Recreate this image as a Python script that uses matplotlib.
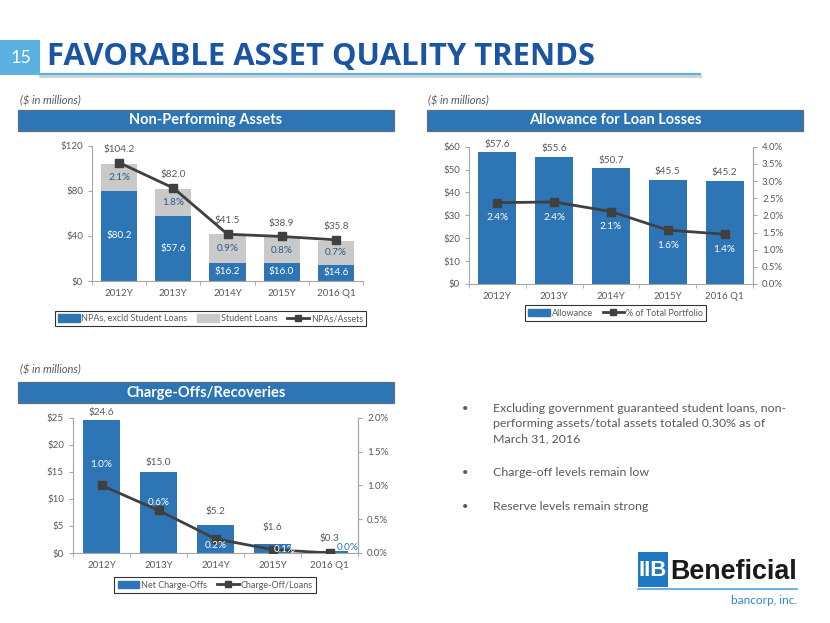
import matplotlib.pyplot as plt
import matplotlib.patches as patches
from matplotlib.lines import Line2D

plt.rcParams['font.family'] = ['Lato', 'DejaVu Sans']

W, H = 830, 623
BLUE = '#2E75B6'
GRAY_BAR = '#C9C9C9'
LINE = '#404040'
TXT = '#595959'
AX = '#A6A6A6'

periods = ['2012Y', '2013Y', '2014Y', '2015Y', '2016 Q1']

# Non-Performing Assets ($ millions)
npa_ex_student = [80.2, 57.6, 16.2, 16.0, 14.6]
npa_total = [104.2, 82.0, 41.5, 38.9, 35.8]
npa_ratio = [2.10, 1.65, 0.83, 0.79, 0.73]          # NPAs/Assets (%), as plotted
npa_ratio_labels = ['2.1%', '1.8%', '0.9%', '0.8%', '0.7%']

# Allowance for Loan Losses
allowance = [57.6, 55.6, 50.7, 45.5, 45.2]
allow_pct = [2.37, 2.39, 2.11, 1.57, 1.45]           # % of Total Portfolio
allow_pct_labels = ['2.4%', '2.4%', '2.1%', '1.6%', '1.4%']

# Charge-Offs/Recoveries
net_chargeoffs = [24.6, 15.0, 5.2, 1.6, 0.3]
co_ratio = [1.00, 0.63, 0.21, 0.05, 0.0]             # Charge-Off/Loans (%)
co_ratio_labels = ['1.0%', '0.6%', '0.2%', '0.1%', '0.0%']

bullets = [
    ['Excluding government guaranteed student loans, non-',
     'performing assets/total assets totaled 0.30% as of',
     'March 31, 2016'],
    ['Charge-off levels remain low'],
    ['Reserve levels remain strong'],
]

student_loans = [t - e for t, e in zip(npa_total, npa_ex_student)]
x = list(range(len(periods)))

fig = plt.figure(figsize=(W / 100, H / 100), dpi=100)


def fx(px):
    return px / W


def fy(py):
    return 1 - py / H


def px_axes(x0, y0, x1, y1):
    return fig.add_axes([fx(x0), fy(y1), (x1 - x0) / W, (y1 - y0) / H])


def style_axes(ax, right=False):
    ax.spines['top'].set_visible(False)
    ax.spines['right'].set_visible(right)
    for s in ['left', 'bottom', 'right']:
        ax.spines[s].set_color(AX)
        ax.spines[s].set_linewidth(0.8)
    ax.set_xlim(-0.5, 4.5)
    ax.set_xticks(x)
    ax.set_xticklabels(periods)
    ax.tick_params(axis='x', length=0, pad=6, labelsize=7, labelcolor=TXT)
    ax.set_xticks([i - 0.5 for i in range(6)], minor=True)
    ax.tick_params(axis='x', which='minor', length=3, color=AX)
    ax.tick_params(axis='y', length=3, color=AX, labelsize=7, labelcolor=TXT)
    ax.patch.set_visible(False)


def right_axis(ax, top, step):
    n = int(round(top / step))
    ax.set_ylim(0, top)
    ax.set_yticks([k * step for k in range(n + 1)])
    ax.set_yticklabels(['%.1f%%' % (k * step) for k in range(n + 1)])
    for s in ['top', 'left', 'bottom']:
        ax.spines[s].set_visible(False)
    ax.spines['right'].set_color(AX)
    ax.spines['right'].set_linewidth(0.8)
    ax.tick_params(axis='y', length=3, color=AX, labelsize=7, labelcolor=TXT)


def header(x0, y0, x1, y1, text):
    fig.patches.append(patches.Rectangle((fx(x0), fy(y1)), (x1 - x0) / W, (y1 - y0) / H,
                                         transform=fig.transFigure, facecolor=BLUE,
                                         edgecolor='#5F6F80', linewidth=0.9))
    fig.text(fx((x0 + x1) / 2), fy((y0 + y1) / 2), text, color='white', fontsize=10.5,
             fontweight='bold', ha='center', va='center')


def legend(ax, handles, labels, cx, cy):
    leg = ax.legend(handles, labels, loc='center', bbox_to_anchor=(fx(cx), fy(cy)),
                    bbox_transform=fig.transFigure, ncol=len(handles), frameon=True,
                    fancybox=False, edgecolor='black', fontsize=6.5, handlelength=2.4,
                    handleheight=0.9, handletextpad=0.2, columnspacing=1.1, borderpad=0.35)
    leg.get_frame().set_linewidth(0.8)
    for t in leg.get_texts():
        t.set_color(TXT)


# ---------- title ----------
fig.patches.append(patches.Rectangle((fx(0), fy(75)), 40 / W, 35 / H, transform=fig.transFigure,
                                     facecolor='#5AB2E3', edgecolor='none'))
fig.text(fx(21), fy(58), '15', color='white', fontsize=13, ha='center', va='center')
fig.text(fx(47), fy(57), 'FAVORABLE ASSET QUALITY TRENDS', color='#1A55A3', fontsize=22.3,
         fontweight='bold', family=['Open Sans', 'DejaVu Sans'], ha='left', va='center')
fig.add_artist(Line2D([fx(40), fx(700)], [fy(75.5), fy(75.5)], color='#D0D0D0', lw=2,
                      transform=fig.transFigure))
fig.add_artist(Line2D([fx(40), fx(700)], [fy(74), fy(74)], color='#5AB2E3', lw=1.6,
                      transform=fig.transFigure))

for tx, ty in [(20, 101), (428, 101), (20, 370)]:
    fig.text(fx(tx), fy(ty), '($ in millions)', color=TXT, fontsize=8, style='italic',
             ha='left', va='center')

header(18, 110, 394, 131, 'Non-Performing Assets')
header(427, 110, 803, 131, 'Allowance for Loan Losses')
header(18, 382, 394, 403, 'Charge-Offs/Recoveries')

# ---------- chart 1: Non-Performing Assets ----------
ax1 = px_axes(92, 145.7, 363, 281)
style_axes(ax1)
ax1.bar(x, npa_ex_student, width=0.67, color=BLUE)
ax1.bar(x, student_loans, width=0.67, bottom=npa_ex_student, color=GRAY_BAR)
ax1.set_ylim(0, 120)
ax1.set_yticks([0, 40, 80, 120])
ax1.set_yticklabels(['$%d' % v for v in [0, 40, 80, 120]])
for i in x:
    ax1.annotate('$%.1f' % npa_total[i], (i, npa_total[i]), xytext=(0, 10),
                 textcoords='offset points', ha='center', va='center', fontsize=7.2, color=TXT)
    ax1.text(i, npa_ex_student[i] / 2, '$%.1f' % npa_ex_student[i], ha='center', va='center',
             fontsize=7.2, color='white')
    ax1.text(i, npa_ex_student[i] + student_loans[i] / 2, npa_ratio_labels[i], ha='center',
             va='center', fontsize=7.2, color='#2F5B8C')
ax1b = ax1.twinx()
ax1b.set_ylim(0, 2.4)
ax1b.axis('off')
ax1b.plot(x, npa_ratio, color=LINE, lw=2, marker='s', markersize=5.5)
legend(ax1b,
       [patches.Patch(color=BLUE), patches.Patch(color=GRAY_BAR),
        Line2D([], [], color=LINE, lw=2, marker='s', markersize=5)],
       ['NPAs, excld Student Loans', 'Student Loans', 'NPAs/Assets'], 210.5, 318.5)

# ---------- chart 2: Allowance ----------
ax2 = px_axes(469, 146.7, 753, 284)
style_axes(ax2, right=True)
ax2.bar(x, allowance, width=0.67, color=BLUE)
ax2.set_ylim(0, 60)
ax2.set_yticks(range(0, 61, 10))
ax2.set_yticklabels(['$%d' % v for v in range(0, 61, 10)])
for i in x:
    ax2.annotate('$%.1f' % allowance[i], (i, allowance[i]), xytext=(0, 2.5),
                 textcoords='offset points', ha='center', va='bottom', fontsize=7.2, color=TXT)
ax2b = ax2.twinx()
right_axis(ax2b, 4.0, 0.5)
ax2b.plot(x, allow_pct, color=LINE, lw=2, marker='s', markersize=5.5)
for i in x:
    ax2b.annotate(allow_pct_labels[i], (i, allow_pct[i]), xytext=(0, -11),
                  textcoords='offset points', ha='center', va='center', fontsize=7.2,
                  color='white')
legend(ax2b,
       [patches.Patch(color=BLUE), Line2D([], [], color=LINE, lw=2, marker='s', markersize=5)],
       ['Allowance', '% of Total Portfolio'], 615.5, 313)

# ---------- chart 3: Charge-Offs ----------
ax3 = px_axes(73, 417.7, 358, 553)
style_axes(ax3, right=True)
ax3.bar(x, net_chargeoffs, width=0.66, color=BLUE)
ax3.set_ylim(0, 25)
ax3.set_yticks(range(0, 26, 5))
ax3.set_yticklabels(['$%d' % v for v in range(0, 26, 5)])
val_off = [5, 7, 9.5, 12, 9]
for i in x:
    ax3.annotate('$%.1f' % net_chargeoffs[i], (i, net_chargeoffs[i]), xytext=(0, val_off[i]),
                 textcoords='offset points', ha='center', va='center', fontsize=7.2, color=TXT)
ax3b = ax3.twinx()
right_axis(ax3b, 2.0, 0.5)
ax3b.plot(x, co_ratio, color=LINE, lw=2, marker='s', markersize=5.5)
pct_off = [(0, 15), (0, 6), (0, -5), (9, 0), (13, 4)]
pct_col = ['white', 'white', 'white', 'white', BLUE]
for i in x:
    ax3b.annotate(co_ratio_labels[i], (i, co_ratio[i]), xytext=pct_off[i],
                  textcoords='offset points', ha='center', va='center', fontsize=7.2,
                  color=pct_col[i])
legend(ax3b,
       [patches.Patch(color=BLUE), Line2D([], [], color=LINE, lw=2, marker='s', markersize=5)],
       ['Net Charge-Offs', 'Charge-Off/Loans'], 215, 585)

# ---------- bullets ----------
y = 408
for block in bullets:
    fig.text(fx(465), fy(y), '\u2022', color=TXT, fontsize=8, ha='center', va='center')
    for line in block:
        fig.text(fx(493), fy(y), line, color=TXT, fontsize=8.9, ha='left', va='center')
        y += 15.5
    y += 18

# ---------- logo ----------
fig.patches.append(patches.Rectangle((fx(638), fy(587)), 30 / W, 35 / H,
                                     transform=fig.transFigure, facecolor='#1F78C1',
                                     edgecolor='none'))
fig.text(fx(653), fy(570), 'IIB', color='white', fontsize=16, fontweight='bold',
         family=['Liberation Sans', 'DejaVu Sans'], ha='center', va='center')
fig.text(fx(670), fy(572), 'Beneficial', color='#1A1A1A', fontsize=19.4, fontweight='bold',
         family=['Liberation Sans', 'DejaVu Sans'], ha='left', va='center')
fig.add_artist(Line2D([fx(638), fx(797)], [fy(589), fy(589)], color='#4AA3DF', lw=1.2,
                      transform=fig.transFigure))
fig.text(fx(797), fy(600), 'bancorp, inc.', color='#2E86C8', fontsize=8.5, ha='right',
         va='center')

fig.savefig('out.png', dpi=100)
